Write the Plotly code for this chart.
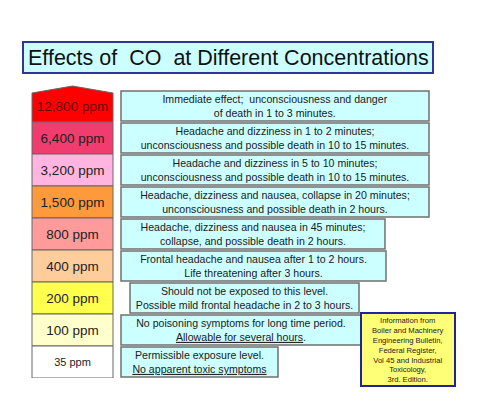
import plotly.graph_objects as go

# concentration levels, top to bottom
levels = ["12,800 ppm", "6,400 ppm", "3,200 ppm", "1,500 ppm", "800 ppm",
          "400 ppm", "200 ppm", "100 ppm", "35 ppm"]

effects = [
    "Immediate effect;  unconsciousness and danger<br>of death in 1 to 3 minutes.",
    "Headache and dizziness in 1 to 2 minutes;<br>unconsciousness and possible death in 10 to 15 minutes.",
    "Headache and dizziness in 5 to 10 minutes;<br>unconsciousness and possible death in 10 to 15 minutes.",
    "Headache, dizziness and nausea, collapse in 20 minutes;<br>unconsciousness and possible death in 2 hours.",
    "Headache, dizziness and nausea in 45 minutes;<br>collapse, and possible death in 2 hours.",
    "Frontal headache and nausea after 1 to 2 hours.<br>Life threatening after 3 hours.",
    "Should not be exposed to this level.<br>Possible mild frontal headache in 2 to 3 hours.",
    "No poisoning symptoms for long time period.<br>"
    "<span style='text-decoration:underline'>Allowable for several hours</span>.",
    "Permissible exposure level.<br>"
    "<span style='text-decoration:underline'>No apparent toxic symptoms</span>",
]

source_note = ("Information from<br>Boiler and Machinery<br>Engineering Bulletin,<br>"
               "Federal Register,<br>Vol 45 and Industrial<br>Toxicology,<br>3rd. Edition.")

# styling / layout (pixel based, figure is 477 x 410)
level_colors = ["#ff0000", "#f03c6e", "#ffb5df", "#ff9a3c", "#ff9b9b",
                "#ffcc9c", "#ffff4d", "#ffffcc", "#ffffff"]
level_font = [13.5] * 8 + [11]
level_text_color = ["#6a0000"] + ["#222222"] * 8
box_left = [121, 121, 121, 121, 121, 121, 130, 121, 121]
box_right = [429, 429, 429, 429, 385, 386, 359, 361, 278]

W, H = 477, 410
top_px, bottom_px = 90, 378


def py(p):
    return 1 - p / H


fig = go.Figure()

# left column (first cell drawn as the arrow shape below)
fig.add_trace(go.Bar(
    y=levels, x=[81] * len(levels), base=32, orientation="h", width=1.0,
    marker=dict(color=["rgba(0,0,0,0)"] + level_colors[1:],
                line=dict(color="#666666", width=[0] + [1] * 8)),
    text=levels, textposition="inside", insidetextanchor="middle",
    textangle=0, constraintext="none",
    insidetextfont=dict(family="Liberation Sans, Arial", size=level_font,
                        color=level_text_color),
    hoverinfo="skip",
))

# effect boxes
fig.add_trace(go.Bar(
    y=levels, x=[r - l for l, r in zip(box_left, box_right)], base=box_left,
    orientation="h", width=0.94,
    marker=dict(color="#ccffff", line=dict(color="#707070", width=1.5)),
    text=effects, textposition="inside", insidetextanchor="middle",
    textangle=0, constraintext="none",
    insidetextfont=dict(family="Liberation Sans, Arial", size=10.6, color="#1a1a1a"),
    hoverinfo="skip",
))

shapes = [
    # arrow head cell for the top level
    dict(type="path", xref="x", yref="paper", layer="below",
         path=f"M 32,{py(122)} L 32,{py(93)} L 72.5,{py(86)} L 113,{py(93)} L 113,{py(122)} Z",
         fillcolor=level_colors[0], line=dict(color="#666666", width=1)),
    # title box
    dict(type="rect", xref="x", yref="paper", x0=23, x1=433, y0=py(73), y1=py(42),
         fillcolor="#ccffff", line=dict(color="#333399", width=2), layer="below"),
    # source box
    dict(type="rect", xref="x", yref="paper", x0=361, x1=455, y0=py(386), y1=py(313),
         fillcolor="#ffff77", line=dict(color="#22229a", width=2), layer="above"),
]

annotations = [
    dict(x=228, y=py(57.5), xref="x", yref="paper", showarrow=False,
         xanchor="center", yanchor="middle",
         text="Effects of\u00a0\u00a0CO\u00a0\u00a0at Different Concentrations",
         font=dict(family="Liberation Sans, Arial", size=21.5, color="#111111")),
    dict(x=408, y=py(349.5), xref="x", yref="paper", showarrow=False,
         xanchor="center", yanchor="middle",
         text=source_note, align="center",
         font=dict(family="Liberation Sans, Arial", size=7.6, color="#1a1a1a")),
]

fig.update_layout(
    width=W, height=H, margin=dict(l=0, r=0, t=0, b=0),
    paper_bgcolor="white", plot_bgcolor="white",
    showlegend=False, barmode="overlay",
    xaxis=dict(range=[0, W], visible=False, fixedrange=True),
    yaxis=dict(type="category", categoryorder="array", categoryarray=levels,
               range=[len(levels) - 0.5, -0.5], visible=False, fixedrange=True,
               domain=[py(bottom_px), py(top_px)]),
    shapes=shapes, annotations=annotations,
)

fig.write_html("out.html", config={"displayModeBar": False},
               post_script="document.body.style.margin='0';")
